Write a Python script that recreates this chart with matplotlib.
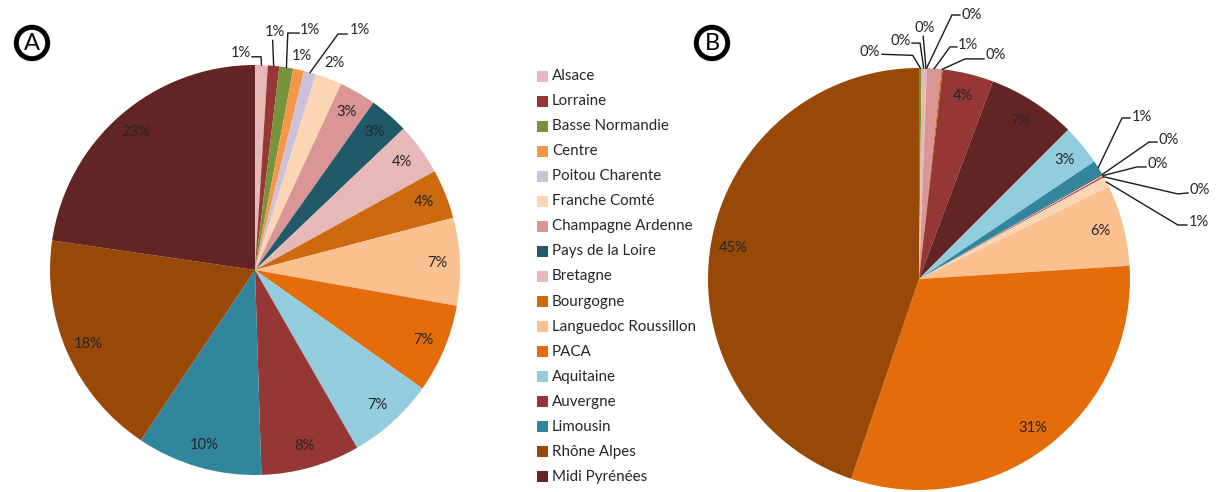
import matplotlib
matplotlib.use("Agg")
import numpy as np
import matplotlib.pyplot as plt
from matplotlib.patches import Rectangle

plt.rcParams['font.family'] = ['Lato', 'DejaVu Sans']

# regions, legend order (also slice order of pie A)
regions = ["Alsace", "Lorraine", "Basse Normandie", "Centre", "Poitou Charente",
           "Franche Comté", "Champagne Ardenne", "Pays de la Loire", "Bretagne",
           "Bourgogne", "Languedoc Roussillon", "PACA", "Aquitaine", "Auvergne",
           "Limousin", "Rhône Alpes", "Midi Pyrénées"]
region_colors = ["#E6B9B8", "#953735", "#77933C", "#F79646", "#CCC1DA",
                 "#FCD5B5", "#D99694", "#215968", "#E6B9B8",
                 "#CD6A10", "#FAC090", "#E46C0A", "#93CDDD", "#953735",
                 "#31859C", "#984807", "#632523"]

# share (%) per region, panel A
share_a = [1.0, 0.9, 1.1, 0.85, 0.95, 2.1, 2.9, 3.1, 4.1, 3.9,
           6.9, 7.0, 6.9, 7.8, 9.9, 17.9, 22.7]

# panel B has its own slice order
order_b = ["Basse Normandie", "Alsace", "Centre", "Poitou Charente",
           "Champagne Ardenne", "Bourgogne", "Lorraine", "Midi Pyrénées",
           "Aquitaine", "Limousin", "Pays de la Loire", "Bretagne", "Auvergne",
           "Franche Comté", "Languedoc Roussillon", "PACA", "Rhône Alpes"]
share_b = [0.2, 0.3, 0.05, 0.05, 1.1, 0.1, 3.9, 6.8, 3.1, 1.1,
           0.1, 0.1, 0.1, 0.8, 6.2, 31.2, 44.8]

W, H = 1220, 492
TXT = "#262626"
PCT_SIZE = 10.6
fig = plt.figure(figsize=(W / 100, H / 100), dpi=100)


def pie_axes(cx, cy, r):
    return fig.add_axes([(cx - r) / W, (H - cy - r) / H, 2 * r / W, 2 * r / H])


def draw_pie(ax, values, cols, outside):
    wedges, _ = ax.pie(values, colors=cols, startangle=90, counterclock=False,
                       radius=1, wedgeprops=dict(linewidth=0))
    ax.set_xlim(-1, 1)
    ax.set_ylim(-1, 1)
    ax.set_aspect('equal')
    ax.axis('off')
    total = sum(values)
    for i, (w, v) in enumerate(zip(wedges, values)):
        mid = np.deg2rad((w.theta1 + w.theta2) / 2)
        px, py = np.cos(mid), np.sin(mid)
        txt = "%d%%" % round(v / total * 100)
        spec = outside.get(i)
        if spec is None:
            ax.text(0.89 * px, 0.89 * py, txt, ha='center', va='center',
                    fontsize=PCT_SIZE, color=TXT)
        elif spec[0] == 'out':
            r = spec[1]
            ax.text(r * px, r * py, txt, ha='center', va='center',
                    fontsize=PCT_SIZE, color=TXT, clip_on=False)
        else:
            _, (tx, ty), ha, pts = spec
            ax.text(tx, ty, txt, ha=ha, va='center', fontsize=PCT_SIZE,
                    color=TXT, clip_on=False)
            xs = [p[0] for p in pts] + [px]
            ys = [p[1] for p in pts] + [py]
            ax.plot(xs, ys, color="#1a1a1a", lw=1.0, clip_on=False,
                    solid_joinstyle='miter')
    return wedges


# panel A
ax_a = pie_axes(255, 270, 205)
labels_a = {
    0: ('lead', (-0.02, 1.06), 'right', [(-0.015, 1.04), (0.03, 1.04)]),
    1: ('lead', (0.095, 1.16), 'center', [(0.086, 1.12)]),
    2: ('lead', (0.22, 1.17), 'left', [(0.215, 1.156), (0.16, 1.156)]),
    3: ('out', 1.07),
    4: ('lead', (0.46, 1.17), 'left', [(0.449, 1.151), (0.405, 1.151)]),
    5: ('out', 1.08),
}
draw_pie(ax_a, share_a, region_colors, labels_a)

# panel B
color_of = dict(zip(regions, region_colors))
ax_b = pie_axes(919, 279, 211)
labels_b = {
    0: ('lead', (-0.185, 1.075), 'right', [(-0.175, 1.065), (-0.03, 1.06)]),
    1: ('lead', (-0.04, 1.13), 'right', [(-0.033, 1.118), (0.005, 1.118)]),
    2: ('lead', (0.025, 1.19), 'center', [(0.02, 1.15)]),
    3: ('lead', (0.20, 1.25), 'left', [(0.194, 1.251), (0.156, 1.251)]),
    4: ('lead', (0.185, 1.11), 'left', [(0.18, 1.10), (0.147, 1.10)]),
    5: ('lead', (0.315, 1.06), 'left', [(0.308, 1.043), (0.218, 1.043)]),
    9: ('lead', (1.01, 0.77), 'left', [(1.0, 0.763), (0.962, 0.763)]),
    10: ('lead', (1.135, 0.66), 'left', [(1.128, 0.649), (1.09, 0.649)]),
    11: ('lead', (1.085, 0.545), 'left', [(1.076, 0.531), (1.033, 0.531)]),
    12: ('lead', (1.283, 0.42), 'left', [(1.275, 0.408), (1.227, 0.403)]),
    13: ('lead', (1.278, 0.27), 'left', [(1.27, 0.256), (1.227, 0.256)]),
}
draw_pie(ax_b, share_b, [color_of[r] for r in order_b], labels_b)

# legend
for i, (name, col) in enumerate(zip(regions, region_colors)):
    y = 76 + 25.06 * i
    fig.patches.append(Rectangle((537 / W, 1 - (y + 5.5) / H), 11 / W, 11 / H,
                                 transform=fig.transFigure, facecolor=col,
                                 edgecolor='none'))
    fig.text(552 / W, 1 - y / H, name, ha='left', va='center',
             fontsize=10.9, color=TXT)

# panel tags
for tag, x in (("A", 32), ("B", 712)):
    fig.text(x / W, 1 - 43 / H, tag, ha='center', va='center', fontsize=17,
             color='black',
             bbox=dict(boxstyle='circle,pad=0.22', facecolor='white',
                       edgecolor='black', lw=3.6))

fig.savefig("out.png", dpi=100)
